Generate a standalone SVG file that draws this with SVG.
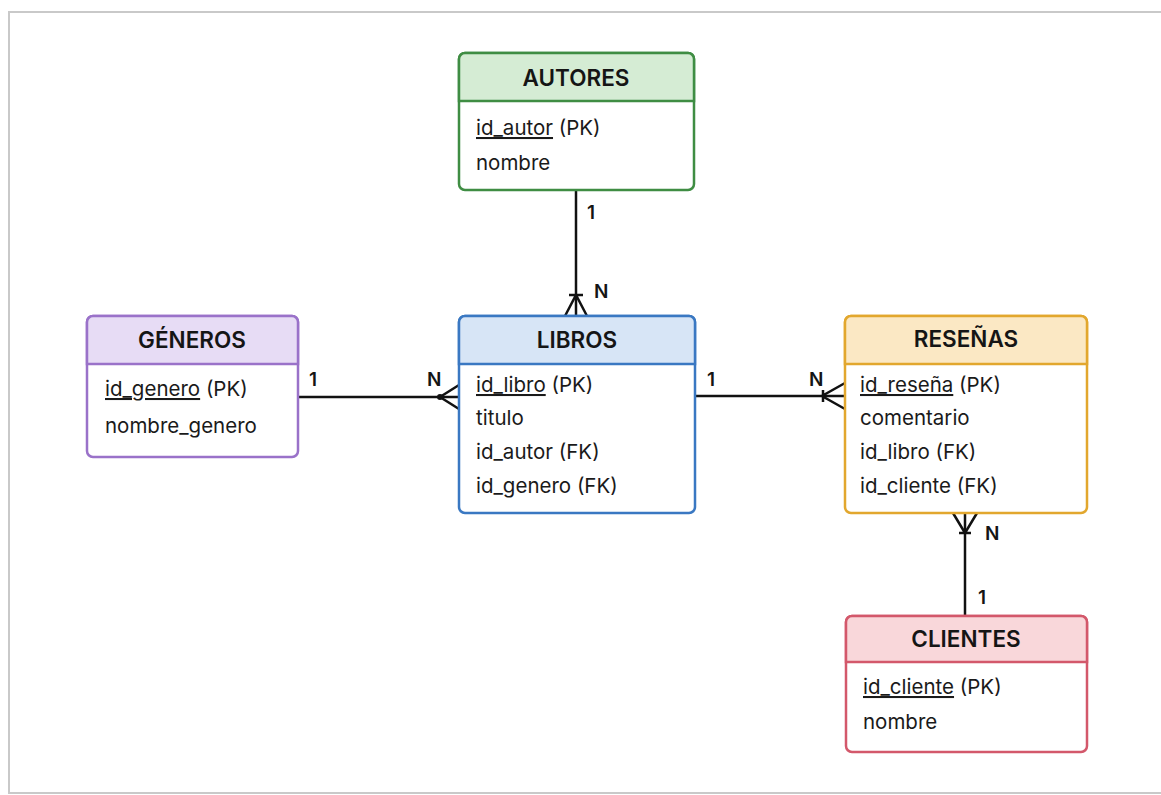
<svg xmlns="http://www.w3.org/2000/svg" width="1161" height="795" viewBox="0 0 1161 795">
<style>
.title{font-family:Inter,"Liberation Sans",sans-serif;font-size:22.5px;font-weight:600;fill:#151515;text-anchor:middle}
.f{font-family:Inter,"Liberation Sans",sans-serif;font-size:20.5px;fill:#1a1a1a}
.lbl{font-family:Inter,"Liberation Sans",sans-serif;font-size:19px;font-weight:600;fill:#151515}
.box{stroke-width:2.5}
.con{stroke:#111;stroke-width:2.5;fill:none}
</style>
<rect x="0" y="0" width="1161" height="795" fill="#ffffff"/>
<rect x="9" y="12" width="1170" height="781" fill="#ffffff" stroke="#c9c9c9" stroke-width="2"/>

<g id="connectors">
  <!-- AUTORES - LIBROS -->
  <line class="con" x1="576" y1="190" x2="576" y2="316"/>
  <path class="con" d="M565 316 L576 295 L587 316 M569 295 L583 295"/>
  <text class="lbl" x="587" y="219">1</text>
  <text class="lbl" x="594" y="298">N</text>
  <!-- GENEROS - LIBROS -->
  <line class="con" x1="298" y1="397" x2="459" y2="397"/>
  <path class="con" d="M459 385 L440 397 L459 409"/>
  <circle cx="440" cy="397" r="3" fill="#111"/>
  <text class="lbl" x="309" y="386">1</text>
  <text class="lbl" x="427" y="386">N</text>
  <!-- LIBROS - RESENAS -->
  <line class="con" x1="695" y1="396" x2="845" y2="396"/>
  <path class="con" d="M845 383 L822 396 L845 409 M823 390 L823 402"/>
  <text class="lbl" x="707" y="386">1</text>
  <text class="lbl" x="809" y="386">N</text>
  <!-- RESENAS - CLIENTES -->
  <line class="con" x1="965" y1="513" x2="965" y2="616"/>
  <path class="con" d="M953 513 L965 533 L977 513 M959 533 L971 533"/>
  <text class="lbl" x="985" y="540">N</text>
  <text class="lbl" x="978" y="604">1</text>
</g>

<g id="autores">
  <rect class="box" x="459" y="53" width="235" height="137" rx="6" fill="#ffffff" stroke="#3f8d43"/>
  <path d="M459 101 V59 a6 6 0 0 1 6 -6 H688 a6 6 0 0 1 6 6 V101 Z" fill="#d5ecd4" stroke="#3f8d43" stroke-width="2.5"/>
  <text class="title" x="576" y="86">AUTORES</text>
  <text class="f" x="476" y="135"><tspan text-decoration="underline">id_autor</tspan> (PK)</text>
  <text class="f" x="476" y="170">nombre</text>
</g>

<g id="generos">
  <rect class="box" x="87" y="316" width="211" height="141" rx="6" fill="#ffffff" stroke="#9a72c9"/>
  <path d="M87 364 V322 a6 6 0 0 1 6 -6 H292 a6 6 0 0 1 6 6 V364 Z" fill="#e7dcf5" stroke="#9a72c9" stroke-width="2.5"/>
  <text class="title" x="192" y="348">GÉNEROS</text>
  <text class="f" x="105" y="396"><tspan text-decoration="underline">id_genero</tspan> (PK)</text>
  <text class="f" x="105" y="433">nombre_genero</text>
</g>

<g id="libros">
  <rect class="box" x="459" y="316" width="236" height="197" rx="6" fill="#ffffff" stroke="#3a78c2"/>
  <path d="M459 364 V322 a6 6 0 0 1 6 -6 H689 a6 6 0 0 1 6 6 V364 Z" fill="#d7e5f6" stroke="#3a78c2" stroke-width="2.5"/>
  <text class="title" x="577" y="348">LIBROS</text>
  <text class="f" x="476" y="392"><tspan text-decoration="underline">id_libro</tspan> (PK)</text>
  <text class="f" x="476" y="425">titulo</text>
  <text class="f" x="476" y="459">id_autor (FK)</text>
  <text class="f" x="476" y="493">id_genero (FK)</text>
</g>

<g id="resenas">
  <rect class="box" x="845" y="316" width="242" height="197" rx="6" fill="#ffffff" stroke="#e2a72e"/>
  <path d="M845 364 V322 a6 6 0 0 1 6 -6 H1081 a6 6 0 0 1 6 6 V364 Z" fill="#fbe8c4" stroke="#e2a72e" stroke-width="2.5"/>
  <text class="title" x="966" y="347">RESEÑAS</text>
  <text class="f" x="860" y="392"><tspan text-decoration="underline">id_reseña</tspan> (PK)</text>
  <text class="f" x="860" y="425">comentario</text>
  <text class="f" x="860" y="459">id_libro (FK)</text>
  <text class="f" x="860" y="493">id_cliente (FK)</text>
</g>

<g id="clientes">
  <rect class="box" x="846" y="616" width="241" height="136" rx="6" fill="#ffffff" stroke="#d3586b"/>
  <path d="M846 662 V622 a6 6 0 0 1 6 -6 H1081 a6 6 0 0 1 6 6 V662 Z" fill="#f9d7da" stroke="#d3586b" stroke-width="2.5"/>
  <text class="title" x="966" y="647">CLIENTES</text>
  <text class="f" x="863" y="694"><tspan text-decoration="underline">id_cliente</tspan> (PK)</text>
  <text class="f" x="863" y="729">nombre</text>
</g>
</svg>
